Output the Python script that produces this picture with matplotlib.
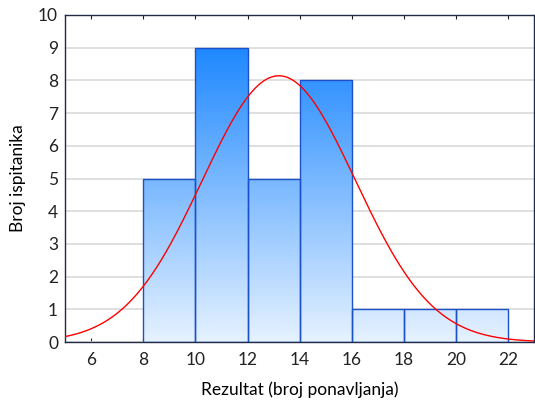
import numpy as np
import matplotlib
matplotlib.use("Agg")
import matplotlib.pyplot as plt
from matplotlib.colors import LinearSegmentedColormap

plt.rcParams['font.family'] = ['Lato', 'DejaVu Sans']

# histogram data
bin_edges = [8, 10, 12, 14, 16, 18, 20, 22]
counts = [5, 9, 5, 8, 1, 1, 1]

# fitted normal curve parameters
mean_val = 13.2
sd_val = 2.94
n_total = sum(counts)
bin_width = 2

x_ticks = [6, 8, 10, 12, 14, 16, 18, 20, 22]
y_ticks = list(range(0, 11))

fig = plt.figure(figsize=(5.35, 4.01), dpi=100)
ax = fig.add_axes([0.1215, 0.147, 0.8775, 0.8156])

ax.set_xlim(5, 23)
ax.set_ylim(0, 10)

ax.yaxis.grid(True, color="#dcdcdc", linewidth=1.3, zorder=0)
ax.set_axisbelow(True)

lefts = bin_edges[:-1]
bars = ax.bar(lefts, counts, width=bin_width, align="edge",
              facecolor="none", edgecolor="#1a50c8", linewidth=1.0, zorder=3)

# vertical gradient, same colour at the same height in every bar
cmap = LinearSegmentedColormap.from_list("blues", ["#e6f2ff", "#087cff"])
grad = np.linspace(0, 1, 256).reshape(-1, 1)
for b in bars:
    im = ax.imshow(grad, cmap=cmap, aspect="auto", origin="lower",
                   extent=[5, 23, 0, 10], zorder=2, interpolation="bicubic")
    im.set_clip_path(b)

# normal curve
xs = np.linspace(5, 23, 400)
ys = n_total * bin_width / (sd_val * np.sqrt(2 * np.pi)) * np.exp(-0.5 * ((xs - mean_val) / sd_val) ** 2)
ax.plot(xs, ys, color="red", linewidth=1.0, zorder=4)

ax.set_xticks(x_ticks)
ax.set_yticks(y_ticks)
ax.tick_params(axis="both", direction="in", labelsize=12.5, colors="#222222",
               top=True, length=3)
ax.tick_params(axis="y", length=0, pad=5)
ax.tick_params(axis="x", pad=7)

for side in ["top", "bottom", "left", "right"]:
    ax.spines[side].set_color("#1f2a44")
    ax.spines[side].set_linewidth(1.0)

ax.set_xlabel("Rezultat (broj ponavljanja)", fontsize=12.5, labelpad=10)
ax.set_ylabel("Broj ispitanika", fontsize=12.5, labelpad=9)

fig.savefig("out.png", dpi=100)
